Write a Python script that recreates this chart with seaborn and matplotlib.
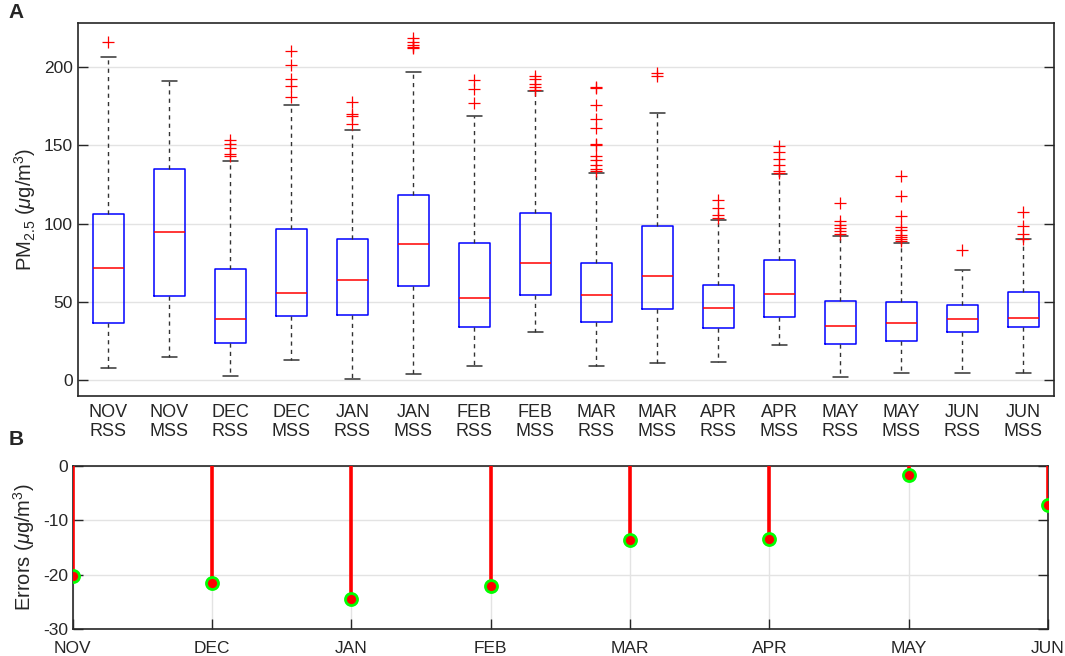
import matplotlib
matplotlib.use("Agg")
import matplotlib.pyplot as plt
import seaborn as sns
import numpy as np

# Panel A: box statistics (PM2.5, ug/m3)
box_labels = ["NOV\nRSS", "NOV\nMSS", "DEC\nRSS", "DEC\nMSS", "JAN\nRSS", "JAN\nMSS",
              "FEB\nRSS", "FEB\nMSS", "MAR\nRSS", "MAR\nMSS", "APR\nRSS", "APR\nMSS",
              "MAY\nRSS", "MAY\nMSS", "JUN\nRSS", "JUN\nMSS"]
whislo = [7.9, 15.1, 3.0, 13.0, 0.9, 4.3, 8.9, 30.7, 8.9, 11.3, 11.9, 22.4, 1.9, 4.5, 4.9, 4.5]
q1 = [36.8, 54.1, 24.1, 41.1, 42.0, 59.9, 33.9, 54.7, 37.0, 45.8, 33.2, 40.7, 23.0, 25.3, 30.7, 33.9]
med = [72.0, 94.6, 39.0, 55.6, 63.9, 87.3, 52.8, 75.0, 54.3, 66.5, 46.0, 55.2, 34.9, 36.4, 39.0, 40.0]
q3 = [106.1, 134.6, 70.9, 96.3, 89.9, 118.4, 87.8, 106.7, 74.8, 98.2, 60.9, 77.1, 50.7, 50.3, 47.9, 56.4]
whishi = [206.2, 191.1, 140.0, 175.7, 160.0, 196.6, 168.9, 184.5, 132.3, 170.4, 102.0, 131.4, 92.0, 87.8, 70.1, 90.3]
fliers = [
    [216.0],
    [],
    [153.6, 151.0, 148.0, 144.6, 143.3],
    [210.0, 201.0, 192.0, 188.0, 181.0],
    [177.4, 170.0, 168.5, 163.8],
    [218.5, 216.0, 214.0, 213.0, 212.0],
    [191.9, 186.0, 177.0],
    [194.5, 192.0, 189.0, 187.0, 185.5],
    [187.2, 186.6, 176.0, 167.0, 161.0, 151.0, 150.0, 143.0, 140.4, 137.6, 134.8, 133.3],
    [196.0, 194.0],
    [115.2, 110.0, 105.6, 103.5],
    [149.7, 145.5, 141.2, 137.6, 133.3, 132.3],
    [113.1, 101.4, 99.3, 97.1, 95.0, 93.3],
    [130.1, 117.4, 104.6, 97.6, 96.1, 92.7, 91.4, 90.1, 88.6],
    [82.9],
    [107.6, 98.8, 93.3, 90.5],
]

# Panel B: errors per month
months = ["NOV", "DEC", "JAN", "FEB", "MAR", "APR", "MAY", "JUN"]
errors = [-20.3, -21.6, -24.5, -22.0, -13.7, -13.4, -1.6, -7.1]

sns.set_style("white")
plt.rcParams["font.family"] = ["Liberation Sans", "DejaVu Sans"]
plt.rcParams["mathtext.fontset"] = "custom"
plt.rcParams["mathtext.rm"] = "Liberation Sans"
plt.rcParams["mathtext.it"] = "Liberation Sans:italic"
plt.rcParams["axes.unicode_minus"] = False

frame_col = "#262626"
grid_col = "#E3E3E3"

fig = plt.figure(figsize=(10.65, 6.56), dpi=100)
ax1 = fig.add_axes([0.0732, 0.3963, 0.9164, 0.5686])
ax2 = fig.add_axes([0.0683, 0.0412, 0.9158, 0.2485])

# Panel A boxplots
stats = []
for i in range(len(box_labels)):
    stats.append({"med": med[i], "q1": q1[i], "q3": q3[i],
                  "whislo": whislo[i], "whishi": whishi[i], "fliers": fliers[i]})
pos = np.arange(1, len(box_labels) + 1)
ax1.bxp(stats, positions=pos, widths=0.5, capwidths=0.25,
        boxprops=dict(color="blue", lw=1.1),
        medianprops=dict(color="red", lw=1.1),
        whiskerprops=dict(color="#333333", ls=(0, (3, 3)), lw=1.0),
        capprops=dict(color="#333333", lw=1.1),
        flierprops=dict(marker="+", markeredgecolor="red", markersize=9,
                        markeredgewidth=0.9, ls="none"))
ax1.set_xlim(0.5, len(box_labels) + 0.5)
ax1.set_ylim(-10, 228)
ax1.set_yticks([0, 50, 100, 150, 200])
ax1.set_xticks(pos)
ax1.set_xticklabels(box_labels, fontsize=13, linespacing=1.15)
ax1.yaxis.grid(True, color=grid_col, lw=1.0)
ax1.set_axisbelow(True)
ax1.tick_params(axis="y", direction="in", length=7, width=1, left=True, right=True,
                labelsize=12.5, color=frame_col)
ax1.tick_params(axis="x", length=0, pad=6)
ax1.set_ylabel(r"PM$_{2.5}$ ($\mu$g/m$^3$)", fontsize=14.5, labelpad=4)

# Panel B stem plot
x = np.arange(len(months))
ax2.vlines(x, 0, errors, color="red", lw=2.6, zorder=3)
sns.scatterplot(x=x, y=errors, ax=ax2, color="red", edgecolor="#00FF00",
                linewidth=2.0, s=75, zorder=4, legend=False)
ax2.set_xlim(0, len(months) - 1)
ax2.set_ylim(-30, 0)
ax2.set_yticks([-30, -20, -10, 0])
ax2.set_xticks(x)
ax2.set_xticklabels(months, fontsize=12.5)
ax2.grid(True, color=grid_col, lw=1.0)
ax2.set_axisbelow(True)
ax2.tick_params(axis="y", direction="in", length=7, width=1, left=True, right=True,
                labelsize=12.5, color=frame_col)
ax2.tick_params(axis="x", direction="in", length=7, width=1, bottom=True,
                labelsize=12.5, color=frame_col, pad=9)
ax2.set_ylabel(r"Errors ($\mu$g/m$^3$)", fontsize=14.5, labelpad=4)

for ax in (ax1, ax2):
    for sp in ax.spines.values():
        sp.set_color(frame_col)
        sp.set_linewidth(1.2)
        sp.set_visible(True)

fig.text(0.008, 0.996, "A", fontsize=15, fontweight="bold", va="top")
fig.text(0.008, 0.345, "B", fontsize=15, fontweight="bold", va="top")

fig.savefig("out.png", dpi=100)
